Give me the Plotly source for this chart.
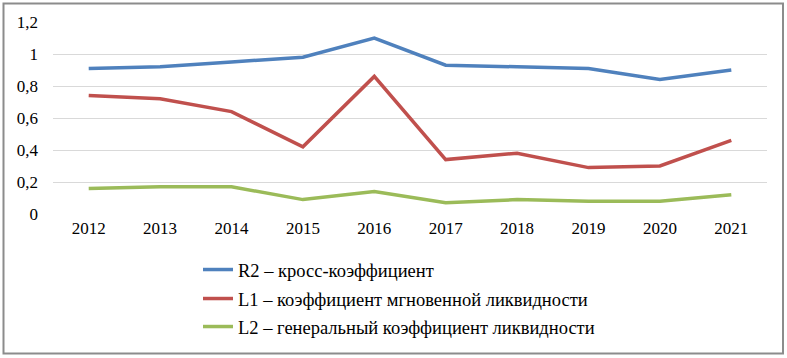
import plotly.graph_objects as go

years = ["2012", "2013", "2014", "2015", "2016", "2017", "2018", "2019", "2020", "2021"]
r2 = [0.91, 0.92, 0.95, 0.98, 1.10, 0.93, 0.92, 0.91, 0.84, 0.90]
l1 = [0.74, 0.72, 0.64, 0.42, 0.86, 0.34, 0.38, 0.29, 0.30, 0.46]
l2 = [0.16, 0.17, 0.17, 0.09, 0.14, 0.07, 0.09, 0.08, 0.08, 0.12]
names = ["R2 – кросс-коэффициент",
         "L1 – коэффициент мгновенной ликвидности",
         "L2 – генеральный коэффициент ликвидности"]
colors = ["#4F81BD", "#C0504D", "#9BBB59"]
y_ticks = [0, 0.2, 0.4, 0.6, 0.8, 1, 1.2]

W, H = 787, 358
L, R, T, B = 53, 20, 22, 144
pw, ph = W - L - R, H - T - B

def px_x(x):
    return (x - L) / pw

def px_y(y):
    return (H - B - y) / ph

fig = go.Figure()
legs = ["legend", "legend2", "legend3"]
for vals, name, c, lg in zip([r2, l1, l2], names, colors, legs):
    fig.add_trace(go.Scatter(x=years, y=vals, name=name, mode="lines",
                             line=dict(color=c, width=3.5), legend=lg))

font = dict(family="Liberation Serif, serif", size=17, color="#000000")
leg_font = dict(family="Liberation Serif, serif", size=18.5, color="#000000")
leg_y = [270, 299, 327]
legend_common = dict(xanchor="left", yanchor="middle", bgcolor="rgba(0,0,0,0)",
                     font=leg_font, borderwidth=0, itemwidth=30)
layout_legs = {}
for lg, yy in zip(legs, leg_y):
    layout_legs[lg] = dict(x=px_x(198), y=px_y(yy), **legend_common)

fig.update_layout(
    width=W, height=H,
    margin=dict(l=L, r=R, t=T, b=B),
    paper_bgcolor="white", plot_bgcolor="white",
    separators=", ",
    font=font,
    showlegend=True,
    xaxis=dict(type="category", range=[-0.5, 9.5], showgrid=False, showline=False,
               zeroline=False, ticks="", tickfont=font, ticklabelstandoff=2),
    yaxis=dict(range=[0, 1.2], tickvals=y_ticks, showgrid=True, gridcolor="#D9D9D9",
               gridwidth=1, zeroline=False, showline=False, ticks="", tickfont=font,
               ticklabelstandoff=14),
    shapes=[dict(type="rect", xref="paper", yref="paper",
                 x0=px_x(3.5), x1=px_x(783), y0=px_y(353.5), y1=px_y(3.5),
                 line=dict(color="#8C8C8C", width=2), layer="above")],
    **layout_legs,
)
fig.write_html("out.html", config={"displayModeBar": False})

with open("out.html", encoding="utf-8") as f:
    html = f.read()
html = html.replace("<head>", "<head><style>html,body{margin:0;padding:0;}</style>", 1)
with open("out.html", "w", encoding="utf-8") as f:
    f.write(html)
